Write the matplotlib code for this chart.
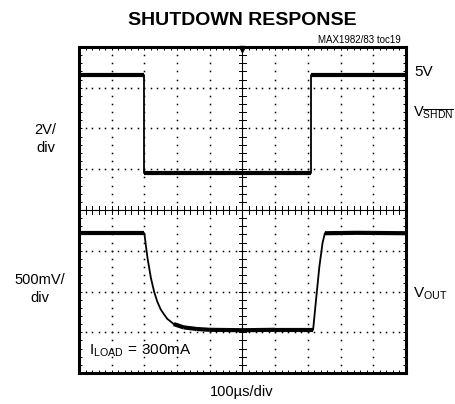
import numpy as np
import matplotlib.pyplot as plt

plt.rcParams['font.family'] = ['Liberation Sans', 'DejaVu Sans']
plt.rcParams['mathtext.fontset'] = 'custom'
plt.rcParams['mathtext.rm'] = 'Liberation Sans'
plt.rcParams['mathtext.it'] = 'Liberation Sans'

# traces in screen divisions (x: 0..10, y: 0..8 from bottom)
shdn_x = [0.0, 2.0, 2.0, 7.1, 7.1, 10.0]
shdn_y = [7.31, 7.31, 4.91, 4.91, 7.31, 7.31]

vout_x = [0.0, 2.0, 2.05, 2.1, 2.2, 2.3, 2.4, 2.5, 2.6, 2.7, 2.9, 3.2, 3.6, 4.0, 5.0, 6.0, 7.16,
          7.25, 7.35, 7.45, 7.52, 8.5, 10.0]
vout_y = [3.43, 3.43, 3.1, 2.8, 2.33, 1.99, 1.74, 1.56, 1.44, 1.33, 1.2, 1.12, 1.08, 1.06, 1.05, 1.06, 1.06,
          1.8, 2.6, 3.2, 3.43, 3.44, 3.43]

fig = plt.figure(figsize=(4.56, 4.04), dpi=100)
ax = fig.add_axes([0.1732, 0.0767, 0.7171, 0.807])
ax.set_xlim(0, 10)
ax.set_ylim(0, 8)

# graticule dots
for gx in range(1, 10):
    if gx == 5:
        continue
    yy = np.arange(0, 8.01, 0.2)
    ax.plot(np.full_like(yy, gx), yy, ls='none', marker='s', ms=1.1, mew=0, color='black')
for gy in range(1, 8):
    if gy == 4:
        continue
    xx = np.arange(0, 10.01, 0.2)
    ax.plot(xx, np.full_like(xx, gy), ls='none', marker='s', ms=1.1, mew=0, color='black')

# center axes with ticks
ax.axhline(4, color='black', lw=0.8)
ax.axvline(5, color='black', lw=0.8)
for t in np.arange(0.2, 10, 0.2):
    ax.plot([t, t], [3.91, 4.09], color='black', lw=0.7)
for t in np.arange(0.2, 8, 0.2):
    ax.plot([4.88, 5.12], [t, t], color='black', lw=0.7)
ax.plot([5], [7.94], marker='v', color='black', ms=5, clip_on=False)


def draw_trace(xs, ys):
    xs = np.asarray(xs)
    ys = np.asarray(ys)
    ax.plot(xs, ys, color='black', lw=1.3)
    for i in range(len(xs) - 1):
        dx = xs[i + 1] - xs[i]
        dy = ys[i + 1] - ys[i]
        if dx > 0 and abs(dy / dx) < 0.3:
            ax.plot(xs[i:i + 2], ys[i:i + 2], color='black', lw=3.0, solid_capstyle='butt')


draw_trace(shdn_x, shdn_y)
draw_trace(vout_x, vout_y)

ax.set_xticks(range(0, 11))
ax.set_yticks(range(0, 9))
ax.set_xticks(np.arange(0, 10.01, 0.2), minor=True)
ax.set_yticks(np.arange(0, 8.01, 0.2), minor=True)
ax.tick_params(which='both', direction='in', top=True, right=True,
               labelbottom=False, labelleft=False, length=2.5, width=0.7)
for s in ax.spines.values():
    s.set_linewidth(2.2)

fig.text(0.531, 0.95, 'SHUTDOWN RESPONSE', ha='center', va='center',
         fontsize=14, fontweight='bold')
fig.text(0.878, 0.902, 'MAX1982/83 toc19', ha='right', va='center', fontsize=7)
fig.text(0.908, 0.822, '5V', ha='left', va='center', fontsize=11)
fig.text(0.905, 0.72, r'$\mathrm{V}_{\overline{\mathrm{SHDN}}}$', ha='left', va='center', fontsize=10.5)
fig.text(0.1, 0.655, '2V/\ndiv', ha='center', va='center', fontsize=10.5, linespacing=1.35)
fig.text(0.088, 0.285, '500mV/\ndiv', ha='center', va='center', fontsize=10.5, linespacing=1.35)
fig.text(0.905, 0.272, r'$\mathrm{V}_{\mathrm{OUT}}$', ha='left', va='center', fontsize=11)
ax.text(0.3, 0.55, r'$\mathrm{I}_{\mathrm{LOAD}}\mathrm{\/=\/300mA}$', ha='left', va='center', fontsize=11)
fig.text(0.531, 0.03, '100µs/div', ha='center', va='center', fontsize=10.5)

fig.savefig('out.png', dpi=100)
